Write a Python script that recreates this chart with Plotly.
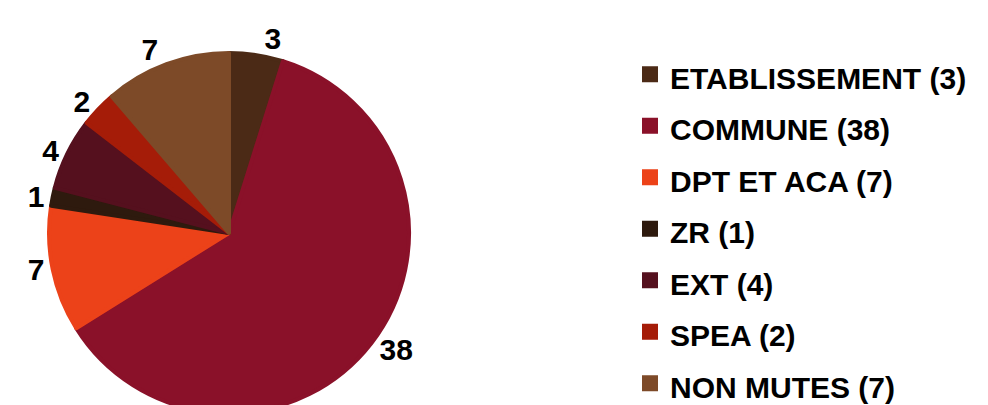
import plotly.graph_objects as go

categories = ["ETABLISSEMENT", "COMMUNE", "DPT ET ACA", "ZR", "EXT", "SPEA", "NON MUTES"]
values = [3, 38, 7, 1, 4, 2, 7]
colors = ["#4b2a16", "#8a1129", "#ec4219", "#2e1a0e", "#55101e", "#a51c08", "#7d4a28"]

legend_labels = [f"<span style='font-size:30px'>{c} ({v})</span>" for c, v in zip(categories, values)]

W, H = 980, 405

fig = go.Figure(
    go.Pie(
        labels=legend_labels,
        values=values,
        sort=False,
        direction="clockwise",
        rotation=0,
        marker=dict(colors=colors, line=dict(color=colors, width=4)),
        textinfo="value",
        textposition="outside",
        textfont=dict(family="Liberation Sans, Arial, sans-serif", size=30, color="black", weight="bold"),
        domain=dict(x=[41 / W, 401 / W], y=[0.0, 360 / H]),
        hoverinfo="skip",
    )
)

fig.update_layout(
    width=W,
    height=H,
    margin=dict(l=0, r=0, t=0, b=0, autoexpand=False),
    paper_bgcolor="white",
    plot_bgcolor="white",
    showlegend=True,
    legend=dict(
        x=622 / W,
        xanchor="left",
        y=1 - 221 / H,
        yanchor="middle",
        font=dict(family="Liberation Sans, Arial, sans-serif", size=37.3, color="black", weight="bold"),
        bgcolor="rgba(0,0,0,0)",
        borderwidth=0,
    ),
)

fig.write_html("out.html")
